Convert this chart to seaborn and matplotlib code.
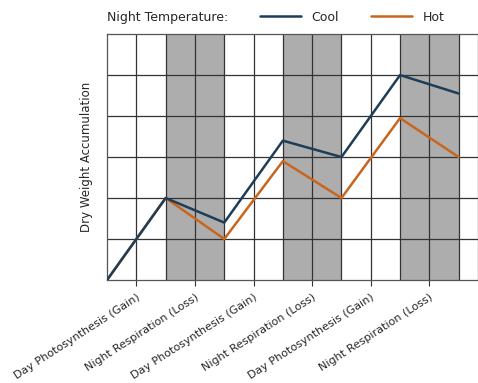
import matplotlib
matplotlib.use("Agg")
import matplotlib.pyplot as plt
import seaborn as sns
import pandas as pd

stages = [0, 1, 2, 3, 4, 5, 6]
cool = [0, 2.0, 1.4, 3.4, 3.0, 5.0, 4.55]
hot = [0, 2.0, 1.0, 2.9, 2.0, 3.95, 3.0]
tick_pos = [0.5, 1.5, 2.5, 3.5, 4.5, 5.5]
tick_labels = ['Day Photosynthesis (Gain)', 'Night Respiration (Loss)'] * 3
night_spans = [(1, 2), (3, 4), (5, 6)]

df = pd.DataFrame({
    'stage': stages * 2,
    'weight': cool + hot,
    'temp': ['Cool'] * len(cool) + ['Hot'] * len(hot),
})

sns.set_style('white')
plt.rcParams['font.family'] = ['DejaVu Sans']

fig = plt.figure(figsize=(4.78, 3.83), dpi=100)
ax = fig.add_axes([0.224, 0.269, 0.776, 0.642])

for a, b in night_spans:
    ax.axvspan(a, b, color='#adadad', lw=0, zorder=0)

# grid lines every half step
for i in range(1, 13):
    ax.axvline(i * 0.5, color='#333333', lw=0.9, zorder=1)
for j in range(1, 6):
    ax.axhline(j, color='#333333', lw=0.9, zorder=1)

# hot first so cool sits on top where they overlap
sns.lineplot(data=df, x='stage', y='weight', hue='temp', hue_order=['Hot', 'Cool'],
             palette={'Cool': '#1f3d58', 'Hot': '#c9661c'},
             lw=1.8, ax=ax, legend=False, zorder=3)

ax.set_xlim(0, 6.33)
ax.set_ylim(0, 6)
ax.set_xticks(tick_pos)
ax.set_xticklabels(tick_labels, rotation=33, ha='right', rotation_mode='anchor',
                   fontsize=8)
ax.set_yticks([])
ax.tick_params(axis='x', bottom=True, length=4, width=0.8, color='#333333', pad=5)
ax.set_xlabel('')
ax.set_ylabel('Dry Weight Accumulation', fontsize=8.5, labelpad=10)
for s in ax.spines.values():
    s.set_color('#555555')
    s.set_linewidth(0.9)

fig.text(0.224, 0.955, 'Night Temperature:', fontsize=9, va='center', ha='left')
handles = [plt.Line2D([], [], color='#1f3d58', lw=1.8),
           plt.Line2D([], [], color='#c9661c', lw=1.8)]
fig.legend(handles, ['Cool', 'Hot'], ncol=2, frameon=False, fontsize=9,
           loc='center left', bbox_to_anchor=(0.52, 0.955),
           handlelength=3.3, columnspacing=2.6, handletextpad=0.8)

fig.savefig('out.png', dpi=100)
